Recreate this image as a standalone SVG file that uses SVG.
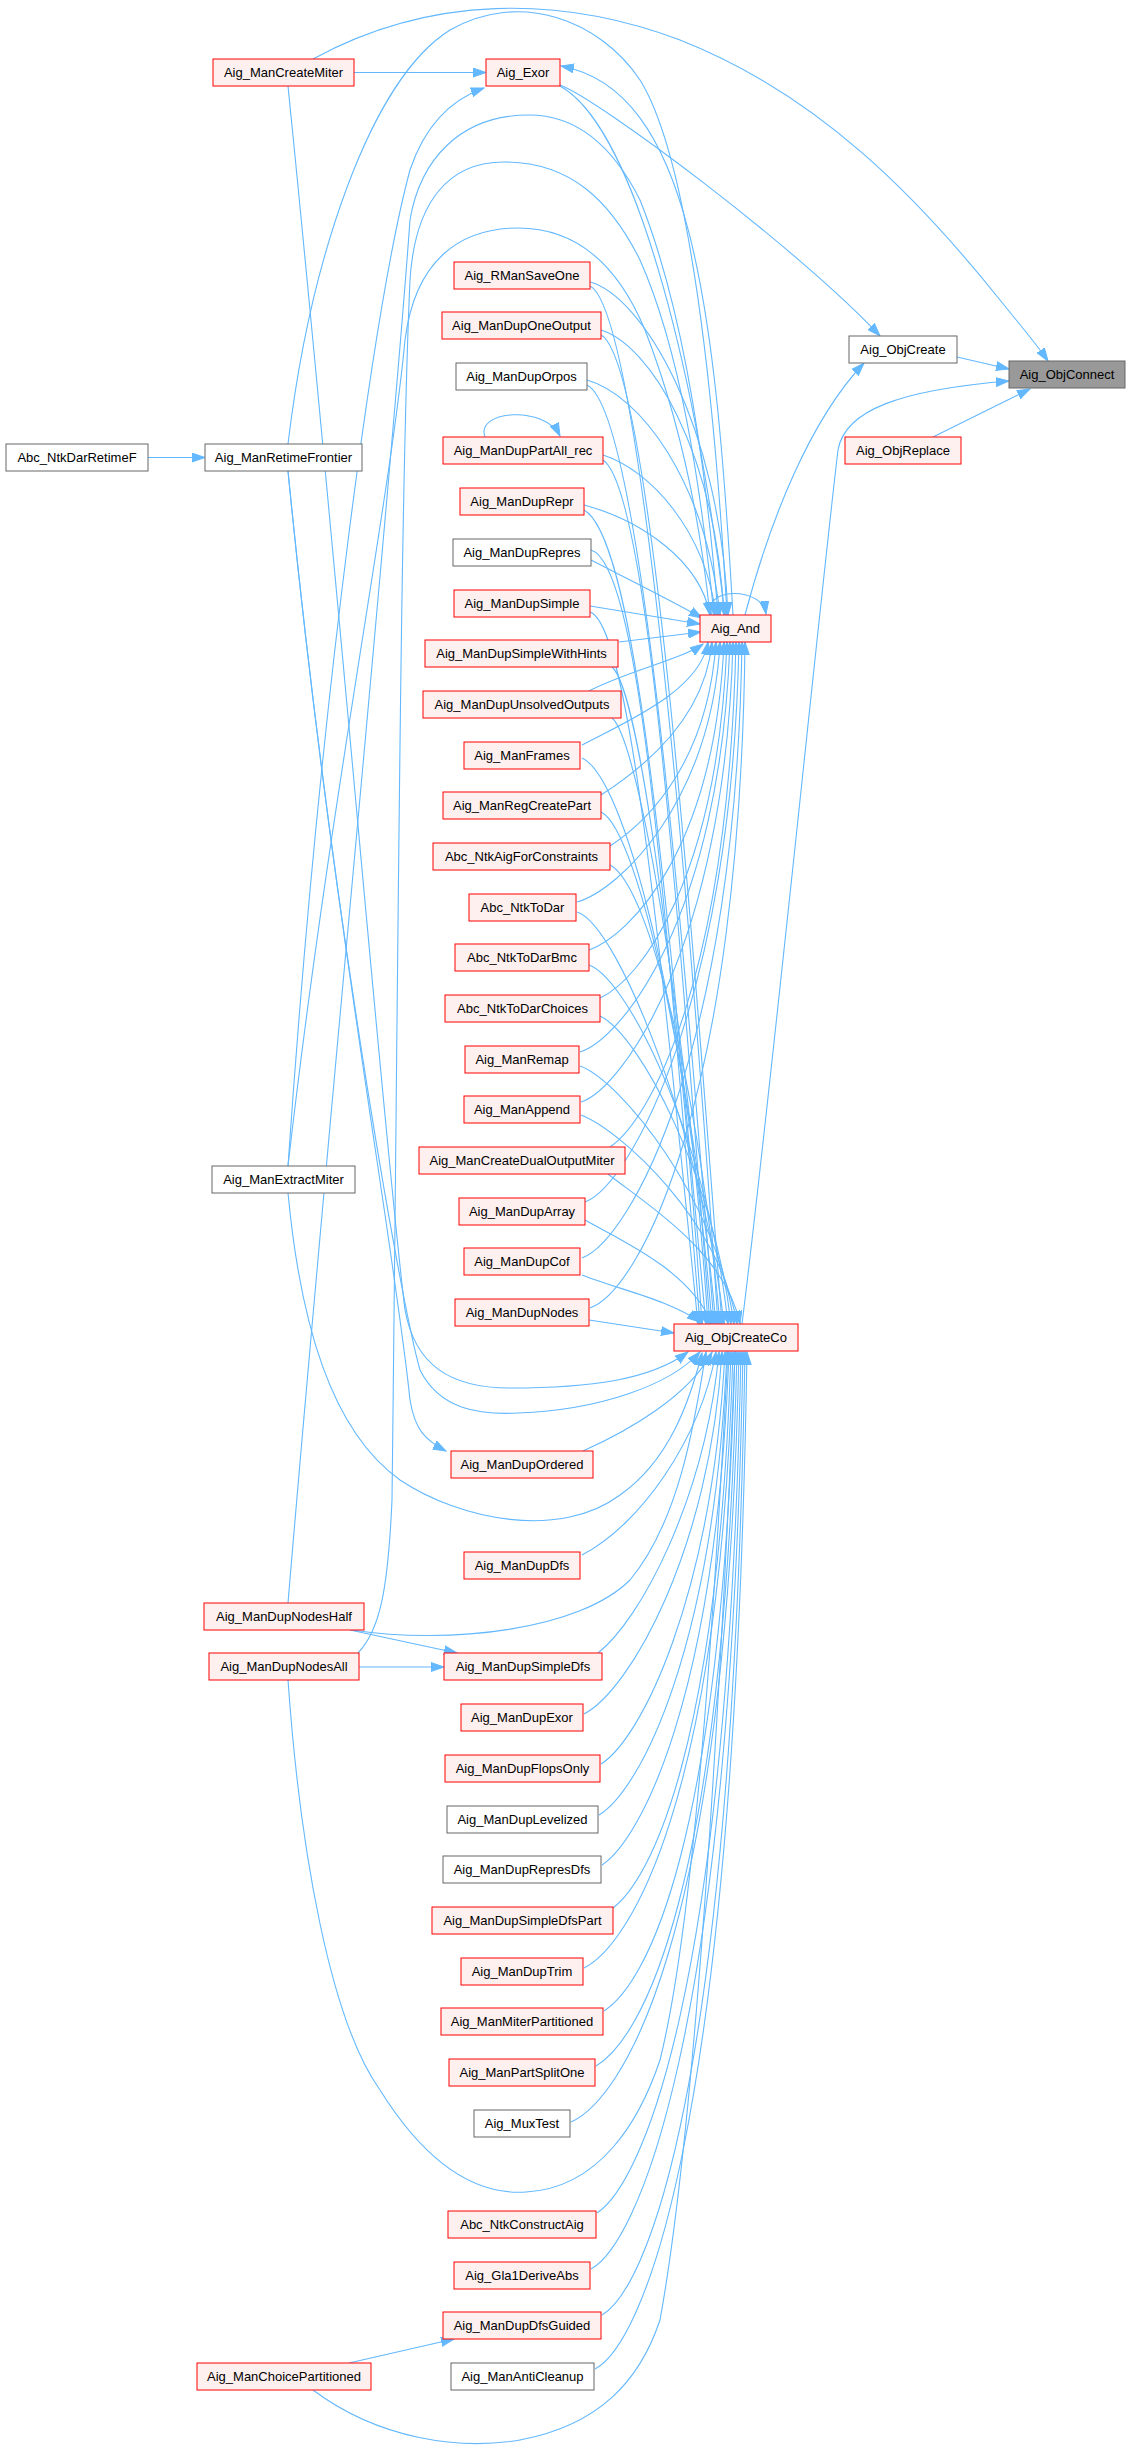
<svg xmlns="http://www.w3.org/2000/svg" width="1131" height="2447" viewBox="0 0 1131 2447">
<style>
.r rect{fill:#fff0f0;stroke:#ff0000;stroke-width:1}
.w rect{fill:#ffffff;stroke:#666666;stroke-width:1}
.g rect{fill:#999999;stroke:#666666;stroke-width:1}
text{font-family:"Liberation Sans",Arial,sans-serif;font-size:13px;fill:#000;text-anchor:middle}
#edges path{fill:none;stroke:#63b8ff;stroke-width:1.1;marker-end:url(#a)}
</style>
<defs>
<marker id="a" markerWidth="14" markerHeight="10" refX="13" refY="5" orient="auto" markerUnits="userSpaceOnUse">
<path d="M0,0.5 L13,5 L0,9.5 z" fill="#63b8ff" stroke="#63b8ff" stroke-width="1"/>
</marker>
</defs>
<rect x="0" y="0" width="1131" height="2447" fill="#ffffff"/>
<g id="edges">
<path d="M148,457.5 L205,457.5"/>
<path d="M354,72.5 L486,72.5"/>
<path d="M313,59 C430,-5 560,-5 680,40 C820,95 920,200 1000,300 C1020,325 1035,342 1048,361"/>
<path d="M288,444 C310,260 370,80 450,30 C520,-10 600,20 640,80 C690,160 715,400 727,615"/>
<path d="M288,86 C340,600 385,1150 405,1310 C415,1365 450,1388 510,1388 C590,1388 650,1380 688,1352"/>
<path d="M288,471 C330,900 400,1300 420,1370 C440,1410 480,1415 518,1413 C600,1410 670,1385 700,1352"/>
<path d="M288,471 C330,900 395,1250 410,1400 C415,1430 425,1440 446,1451"/>
<path d="M288,1166 C320,700 375,300 410,170 C425,125 450,100 484,88"/>
<path d="M288,1603 C330,1100 390,500 410,220 C420,160 460,115 529,115 C580,115 615,150 640,200 C680,300 705,450 718,615"/>
<path d="M358,1653 C380,1630 388,1590 392,1500 C398,1000 400,500 410,280 C415,200 450,162 504,162 C570,162 610,200 640,260 C680,350 700,480 714,615"/>
<path d="M288,1166 C330,800 390,500 405,340 C415,260 460,228 518,228 C580,228 620,270 645,330 C680,420 700,520 710,615"/>
<path d="M288,1193 C300,1320 330,1430 400,1480 C460,1520 560,1540 620,1495 C670,1460 690,1400 702,1353"/>
<path d="M350,1630 L457,1653"/>
<path d="M359,1667 L444,1667"/>
<path d="M352,1630 C450,1645 580,1630 630,1580 C680,1520 695,1420 706,1352"/>
<path d="M288,1680 C300,1850 330,2020 380,2090 C430,2170 480,2195 526,2192 C600,2188 640,2120 660,2060 C700,1900 720,1500 728,1352"/>
<path d="M349,2363 L454,2339"/>
<path d="M313,2390 C380,2440 460,2450 520,2440 C600,2425 640,2380 660,2320 C700,2100 725,1600 735,1352"/>
<path d="M957,357 L1009,369"/>
<path d="M933,437 L1030,389"/>
<path d="M742,1324 C770,1100 820,600 838,450 C845,410 900,390 1009,381"/>
<path d="M560,85 C600,100 800,250 880,336"/>
<path d="M745,615 C770,520 810,420 864,363"/>
<path d="M733,615 C715,300 690,90 561,66"/>
<path d="M560,86 C640,130 700,400 725,615"/>
<path d="M712,615 C700,588 762,585 766,614"/>
<path d="M485,437 C475,410 545,405 560,436"/>
<path d="M590,282 C640,295 720,420 728,615"/>
<path d="M590,286 C640,310 690,900 718,1324"/>
<path d="M601,330 C650,345 715,450 724,615"/>
<path d="M601,335 C650,360 690,900 722,1324"/>
<path d="M587,380 C640,395 705,480 720,615"/>
<path d="M587,385 C640,410 680,900 714,1324"/>
<path d="M603,455 C650,470 705,530 716,615"/>
<path d="M603,460 C650,490 680,950 710,1324"/>
<path d="M584,505 C640,520 700,560 710,615"/>
<path d="M584,510 C640,540 670,950 706,1324"/>
<path d="M591,560 C630,580 680,605 702,618"/>
<path d="M591,550 C640,565 665,900 700,1324"/>
<path d="M590,606 L700,624"/>
<path d="M590,612 C630,625 660,950 698,1324"/>
<path d="M619,642 L701,632"/>
<path d="M612,667 C640,690 680,1000 702,1324"/>
<path d="M589,691 C630,670 680,660 703,644"/>
<path d="M612,718 C640,740 690,1050 708,1324"/>
<path d="M582,745 C630,720 700,690 708,642"/>
<path d="M582,758 C630,780 690,1050 712,1324"/>
<path d="M601,795 C640,770 705,720 712,642"/>
<path d="M601,812 C640,830 695,1100 716,1324"/>
<path d="M610,846 C650,820 708,760 716,642"/>
<path d="M610,865 C650,885 700,1100 720,1324"/>
<path d="M577,902 C620,890 712,800 720,642"/>
<path d="M577,912 C620,925 705,1150 724,1324"/>
<path d="M589,950 C630,935 715,850 724,642"/>
<path d="M589,965 C630,980 710,1150 728,1324"/>
<path d="M600,998 C640,980 718,880 727,642"/>
<path d="M600,1016 C640,1035 715,1180 731,1324"/>
<path d="M580,1052 C620,1040 720,920 730,642"/>
<path d="M580,1066 C620,1080 718,1200 734,1324"/>
<path d="M581,1102 C620,1090 725,950 733,642"/>
<path d="M581,1115 C620,1130 720,1220 737,1324"/>
<path d="M610,1147 C650,1120 728,980 736,642"/>
<path d="M608,1174 C640,1200 725,1250 740,1324"/>
<path d="M585,1202 C630,1185 732,1000 739,642"/>
<path d="M585,1220 C620,1240 690,1270 712,1324"/>
<path d="M582,1258 C630,1240 736,1050 742,642"/>
<path d="M582,1275 C620,1290 670,1300 700,1322"/>
<path d="M590,1308 C640,1290 740,1100 745,642"/>
<path d="M589,1320 L674,1333"/>
<path d="M583,1451 C630,1430 690,1395 712,1352"/>
<path d="M582,1555 C640,1525 700,1440 716,1352"/>
<path d="M598,1653 C640,1620 705,1500 719,1352"/>
<path d="M584,1714 C630,1690 710,1550 722,1352"/>
<path d="M601,1764 C640,1740 712,1600 725,1352"/>
<path d="M599,1815 C640,1790 714,1650 727,1352"/>
<path d="M602,1865 C640,1840 716,1700 729,1352"/>
<path d="M613,1908 C650,1880 718,1750 731,1352"/>
<path d="M584,1968 C630,1945 720,1800 733,1352"/>
<path d="M604,2011 C645,1985 722,1850 735,1352"/>
<path d="M596,2066 C640,2040 724,1900 737,1352"/>
<path d="M571,2122 C620,2100 726,1950 739,1352"/>
<path d="M597,2213 C640,2185 728,2000 741,1352"/>
<path d="M591,2269 C635,2245 730,2050 743,1352"/>
<path d="M602,2315 C645,2290 732,2100 745,1352"/>
<path d="M595,2369 C640,2345 734,2150 747,1352"/>
</g>
<g id="Aig_ObjConnect" class="g"><rect x="1009" y="361" width="116" height="27"/><text x="1067" y="379">Aig_ObjConnect</text></g>
<g id="Aig_ObjCreate" class="w"><rect x="849" y="336" width="108" height="27"/><text x="903" y="354">Aig_ObjCreate</text></g>
<g id="Aig_ObjReplace" class="r"><rect x="845" y="437" width="116" height="27"/><text x="903" y="455">Aig_ObjReplace</text></g>
<g id="Aig_And" class="r"><rect x="700" y="615" width="71" height="27"/><text x="735.5" y="633">Aig_And</text></g>
<g id="Aig_ObjCreateCo" class="r"><rect x="674" y="1324" width="124" height="27"/><text x="736" y="1342">Aig_ObjCreateCo</text></g>
<g id="Aig_Exor" class="r"><rect x="486" y="59" width="74" height="27"/><text x="523" y="77">Aig_Exor</text></g>
<g id="Aig_ManCreateMiter" class="r"><rect x="213" y="59" width="141" height="27"/><text x="283.5" y="77">Aig_ManCreateMiter</text></g>
<g id="Aig_ManRetimeFrontier" class="w"><rect x="205" y="444" width="157" height="27"/><text x="283.5" y="462">Aig_ManRetimeFrontier</text></g>
<g id="Abc_NtkDarRetimeF" class="w"><rect x="6" y="444" width="142" height="27"/><text x="77" y="462">Abc_NtkDarRetimeF</text></g>
<g id="Aig_ManExtractMiter" class="w"><rect x="212" y="1166" width="143" height="27"/><text x="283.5" y="1184">Aig_ManExtractMiter</text></g>
<g id="Aig_ManDupNodesHalf" class="r"><rect x="204" y="1603" width="160" height="27"/><text x="284" y="1621">Aig_ManDupNodesHalf</text></g>
<g id="Aig_ManDupNodesAll" class="r"><rect x="209" y="1653" width="150" height="27"/><text x="284" y="1671">Aig_ManDupNodesAll</text></g>
<g id="Aig_ManChoicePartitioned" class="r"><rect x="197" y="2363" width="174" height="27"/><text x="284" y="2381">Aig_ManChoicePartitioned</text></g>
<g id="Aig_RManSaveOne" class="r"><rect x="454" y="262" width="136" height="27"/><text x="522" y="280">Aig_RManSaveOne</text></g>
<g id="Aig_ManDupOneOutput" class="r"><rect x="442" y="312" width="159" height="27"/><text x="521.5" y="330">Aig_ManDupOneOutput</text></g>
<g id="Aig_ManDupOrpos" class="w"><rect x="456" y="363" width="131" height="27"/><text x="521.5" y="381">Aig_ManDupOrpos</text></g>
<g id="Aig_ManDupPartAll_rec" class="r"><rect x="443" y="437" width="160" height="27"/><text x="523" y="455">Aig_ManDupPartAll_rec</text></g>
<g id="Aig_ManDupRepr" class="r"><rect x="460" y="488" width="124" height="27"/><text x="522" y="506">Aig_ManDupRepr</text></g>
<g id="Aig_ManDupRepres" class="w"><rect x="453" y="539" width="138" height="27"/><text x="522" y="557">Aig_ManDupRepres</text></g>
<g id="Aig_ManDupSimple" class="r"><rect x="454" y="590" width="136" height="27"/><text x="522" y="608">Aig_ManDupSimple</text></g>
<g id="Aig_ManDupSimpleWithHints" class="r"><rect x="425" y="640" width="193" height="27"/><text x="521.5" y="658">Aig_ManDupSimpleWithHints</text></g>
<g id="Aig_ManDupUnsolvedOutputs" class="r"><rect x="423" y="691" width="198" height="27"/><text x="522" y="709">Aig_ManDupUnsolvedOutputs</text></g>
<g id="Aig_ManFrames" class="r"><rect x="464" y="742" width="116" height="27"/><text x="522" y="760">Aig_ManFrames</text></g>
<g id="Aig_ManRegCreatePart" class="r"><rect x="443" y="792" width="158" height="27"/><text x="522" y="810">Aig_ManRegCreatePart</text></g>
<g id="Abc_NtkAigForConstraints" class="r"><rect x="433" y="843" width="177" height="27"/><text x="521.5" y="861">Abc_NtkAigForConstraints</text></g>
<g id="Abc_NtkToDar" class="r"><rect x="469" y="894" width="107" height="27"/><text x="522.5" y="912">Abc_NtkToDar</text></g>
<g id="Abc_NtkToDarBmc" class="r"><rect x="455" y="944" width="134" height="27"/><text x="522" y="962">Abc_NtkToDarBmc</text></g>
<g id="Abc_NtkToDarChoices" class="r"><rect x="445" y="995" width="155" height="27"/><text x="522.5" y="1013">Abc_NtkToDarChoices</text></g>
<g id="Aig_ManRemap" class="r"><rect x="465" y="1046" width="114" height="27"/><text x="522" y="1064">Aig_ManRemap</text></g>
<g id="Aig_ManAppend" class="r"><rect x="464" y="1096" width="116" height="27"/><text x="522" y="1114">Aig_ManAppend</text></g>
<g id="Aig_ManCreateDualOutputMiter" class="r"><rect x="419" y="1147" width="206" height="27"/><text x="522" y="1165">Aig_ManCreateDualOutputMiter</text></g>
<g id="Aig_ManDupArray" class="r"><rect x="459" y="1198" width="126" height="27"/><text x="522" y="1216">Aig_ManDupArray</text></g>
<g id="Aig_ManDupCof" class="r"><rect x="464" y="1248" width="116" height="27"/><text x="522" y="1266">Aig_ManDupCof</text></g>
<g id="Aig_ManDupNodes" class="r"><rect x="455" y="1299" width="134" height="27"/><text x="522" y="1317">Aig_ManDupNodes</text></g>
<g id="Aig_ManDupOrdered" class="r"><rect x="451" y="1451" width="142" height="27"/><text x="522" y="1469">Aig_ManDupOrdered</text></g>
<g id="Aig_ManDupDfs" class="r"><rect x="464" y="1552" width="116" height="27"/><text x="522" y="1570">Aig_ManDupDfs</text></g>
<g id="Aig_ManDupSimpleDfs" class="r"><rect x="444" y="1653" width="158" height="27"/><text x="523" y="1671">Aig_ManDupSimpleDfs</text></g>
<g id="Aig_ManDupExor" class="r"><rect x="461" y="1704" width="122" height="27"/><text x="522" y="1722">Aig_ManDupExor</text></g>
<g id="Aig_ManDupFlopsOnly" class="r"><rect x="445" y="1755" width="155" height="27"/><text x="522.5" y="1773">Aig_ManDupFlopsOnly</text></g>
<g id="Aig_ManDupLevelized" class="w"><rect x="447" y="1806" width="151" height="27"/><text x="522.5" y="1824">Aig_ManDupLevelized</text></g>
<g id="Aig_ManDupRepresDfs" class="w"><rect x="443" y="1856" width="158" height="27"/><text x="522" y="1874">Aig_ManDupRepresDfs</text></g>
<g id="Aig_ManDupSimpleDfsPart" class="r"><rect x="432" y="1907" width="181" height="27"/><text x="522.5" y="1925">Aig_ManDupSimpleDfsPart</text></g>
<g id="Aig_ManDupTrim" class="r"><rect x="461" y="1958" width="122" height="27"/><text x="522" y="1976">Aig_ManDupTrim</text></g>
<g id="Aig_ManMiterPartitioned" class="r"><rect x="441" y="2008" width="162" height="27"/><text x="522" y="2026">Aig_ManMiterPartitioned</text></g>
<g id="Aig_ManPartSplitOne" class="r"><rect x="449" y="2059" width="146" height="27"/><text x="522" y="2077">Aig_ManPartSplitOne</text></g>
<g id="Aig_MuxTest" class="w"><rect x="474" y="2110" width="96" height="27"/><text x="522" y="2128">Aig_MuxTest</text></g>
<g id="Abc_NtkConstructAig" class="r"><rect x="448" y="2211" width="148" height="27"/><text x="522" y="2229">Abc_NtkConstructAig</text></g>
<g id="Aig_Gla1DeriveAbs" class="r"><rect x="454" y="2262" width="136" height="27"/><text x="522" y="2280">Aig_Gla1DeriveAbs</text></g>
<g id="Aig_ManDupDfsGuided" class="r"><rect x="443" y="2312" width="158" height="27"/><text x="522" y="2330">Aig_ManDupDfsGuided</text></g>
<g id="Aig_ManAntiCleanup" class="w"><rect x="451" y="2363" width="143" height="27"/><text x="522.5" y="2381">Aig_ManAntiCleanup</text></g>
</svg>
